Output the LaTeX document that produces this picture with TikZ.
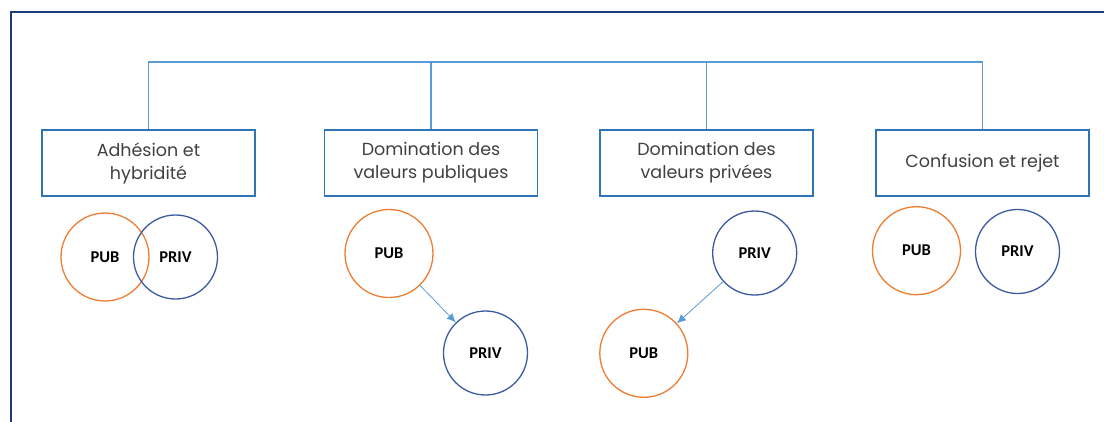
\documentclass[tikz,border=0pt]{standalone}
\usepackage{fontspec}
\setmainfont{Poppins}
\newfontfamily\lblfont{Carlito}
\usetikzlibrary{arrows.meta}
\definecolor{frameblue}{HTML}{1F3A78}
\definecolor{boxblue}{HTML}{2E75B6}
\definecolor{linkblue}{HTML}{5B9BD5}
\definecolor{pubor}{HTML}{ED7D31}
\definecolor{privbl}{HTML}{3A5BA0}
\definecolor{txtgray}{HTML}{404040}
\tikzset{
  catbox/.style={draw=boxblue, line width=1.4pt, minimum width=213pt, minimum height=66pt, inner sep=0pt, align=center, text=txtgray, font=\fontsize{17.5}{23}\selectfont},
  pubc/.style={circle, draw=pubor, line width=1.3pt, inner sep=0pt, minimum size=88pt, text=black, font=\lblfont\bfseries\fontsize{16.5}{18}\selectfont},
  privc/.style={circle, draw=privbl, line width=1.3pt, inner sep=0pt, minimum size=84pt, text=black, font=\lblfont\bfseries\fontsize{16.5}{18}\selectfont},
  link/.style={draw=linkblue, line width=1.2pt},
  flow/.style={draw=linkblue, line width=0.8pt, -{Latex[length=9pt,width=8pt]}},
  frameline/.style={draw=frameblue, line width=1.8pt}
}
\begin{document}
\begin{tikzpicture}[x=1pt,y=-1pt]
\useasboundingbox (0,0) rectangle (1104,421);
\draw[frameline] (11,422) -- (11,12) -- (1105,12);

\node[catbox] (b1) at (148.5,163) {Adhésion et\\hybridité};
\node[catbox] (b2) at (431,163) {Domination des\\valeurs publiques};
\node[catbox] (b3) at (706.5,163) {Domination des\\valeurs privées};
\node[catbox] (b4) at (982.5,163) {Confusion et rejet};

\coordinate (bar) at (0,62);
\draw[link] (b1.north) -- (b1.north |- bar) -- (b4.north |- bar) -- (b4.north);
\draw[link] (b2.north) -- (b2.north |- bar);
\draw[link] (b3.north) -- (b3.north |- bar);

\node[pubc] (pub1) at (105,257) {PUB};
\node[privc] (priv1) at (175.5,257) {PRIV};

\node[pubc] (pub2) at (389,253.5) {PUB};
\node[privc] (priv2) at (485.5,353) {PRIV};
\draw[flow] (pub2) -- (priv2);

\node[privc] (priv3) at (754.7,253) {PRIV};
\node[pubc] (pub3) at (643.8,353.3) {PUB};
\draw[flow] (priv3) -- (pub3);

\node[pubc] (pub4) at (916.5,250.7) {PUB};
\node[privc] (priv4) at (1017.5,251.5) {PRIV};
\end{tikzpicture}
\end{document}
